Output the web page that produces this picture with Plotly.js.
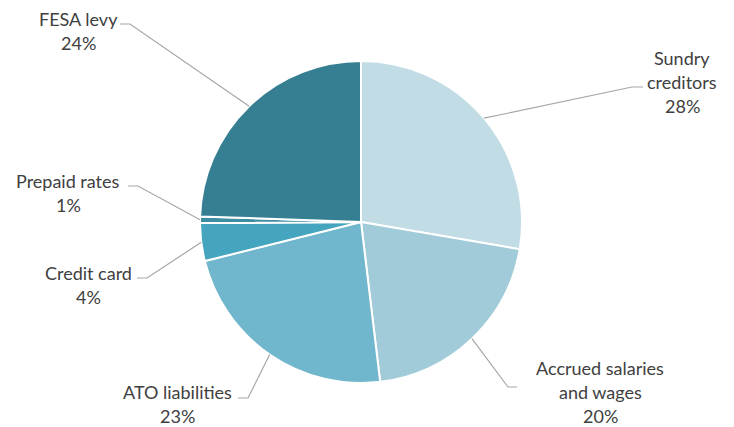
<!DOCTYPE html>
<html>
<head>
<meta charset="utf-8">
<script src="https://cdn.plot.ly/plotly-3.0.1.min.js"></script>
<style>
html,body{margin:0;padding:0;background:#fff;}
#chart{width:734px;height:427px;}
</style>
</head>
<body>
<div id="chart"></div>
<script>
// ---- data ----
const categories = ['Sundry creditors', 'Accrued salaries and wages', 'ATO liabilities', 'Credit card', 'Prepaid rates', 'FESA levy'];
const labelLines = [['Sundry', 'creditors'], ['Accrued salaries', 'and wages'], ['ATO liabilities'], ['Credit card'], ['Prepaid rates'], ['FESA levy']];
const shares = [27.7, 20.4, 23.0, 3.8, 0.65, 24.45];
const sliceColors = ['#c1dce4', '#a1cbd9', '#70b6cc', '#46a5be', '#3e8ea3', '#367f92'];

// ---- layout (pixels) ----
const W = 734, H = 427;
const pieCx = 361, pieCy = 222, pieR = 161;
// label block centre x, first-line y, elbow point, horizontal tip x
const labelPos = [
  {cx: 682, y: 58, ex: 632, ey: 87, hx: 643},
  {cx: 600, y: 368, ex: 508, ey: 387, hx: 517},
  {cx: 177, y: 392, ex: 248, ey: 398, hx: 238},
  {cx: 88, y: 273, ex: 147, ey: 278, hx: 137},
  {cx: 68, y: 181, ex: 138, ey: 186, hx: 128},
  {cx: 78, y: 19, ex: 130, ey: 24, hx: 120}
];
const lineGap = 24;
const textColor = '#404040';
const leaderColor = '#a6a6a6';
const fontFamily = 'Lato, "Open Sans", sans-serif';
const fontSize = 18;

const px = x => x / W;
const py = y => 1 - y / H;

const total = shares.reduce((a, b) => a + b, 0);
const annotations = [];
const shapes = [];
let cum = 0;
shares.forEach((v, i) => {
  const mid = (cum + v / 2) / total * 2 * Math.PI;
  cum += v;
  const sx = pieCx + pieR * Math.sin(mid);
  const sy = pieCy - pieR * Math.cos(mid);
  const p = labelPos[i];
  const lines = labelLines[i].concat([Math.round(v / total * 100) + '%']);
  lines.forEach((t, k) => {
    annotations.push({
      xref: 'paper', yref: 'paper', x: px(p.cx), y: py(p.y + k * lineGap),
      xanchor: 'center', yanchor: 'middle', showarrow: false, borderpad: 0,
      text: t, font: {family: fontFamily, size: fontSize, color: textColor}
    });
  });
  shapes.push({
    type: 'path', xref: 'paper', yref: 'paper',
    path: `M ${px(p.hx)},${py(p.ey)} L ${px(p.ex)},${py(p.ey)} L ${px(sx)},${py(sy)}`,
    line: {color: leaderColor, width: 1.2}
  });
});

const trace = {
  type: 'pie',
  labels: categories,
  values: shares,
  sort: false,
  direction: 'clockwise',
  rotation: 0,
  textinfo: 'none',
  hoverinfo: 'none',
  showlegend: false,
  marker: {colors: sliceColors, line: {color: '#ffffff', width: 2}},
  domain: {x: [px(pieCx - pieR), px(pieCx + pieR)], y: [py(pieCy + pieR), py(pieCy - pieR)]}
};

Plotly.newPlot('chart', [trace], {
  width: W, height: H,
  margin: {l: 0, r: 0, t: 0, b: 0},
  paper_bgcolor: '#ffffff',
  showlegend: false,
  annotations: annotations,
  shapes: shapes
}, {staticPlot: true});
</script>
</body>
</html>
